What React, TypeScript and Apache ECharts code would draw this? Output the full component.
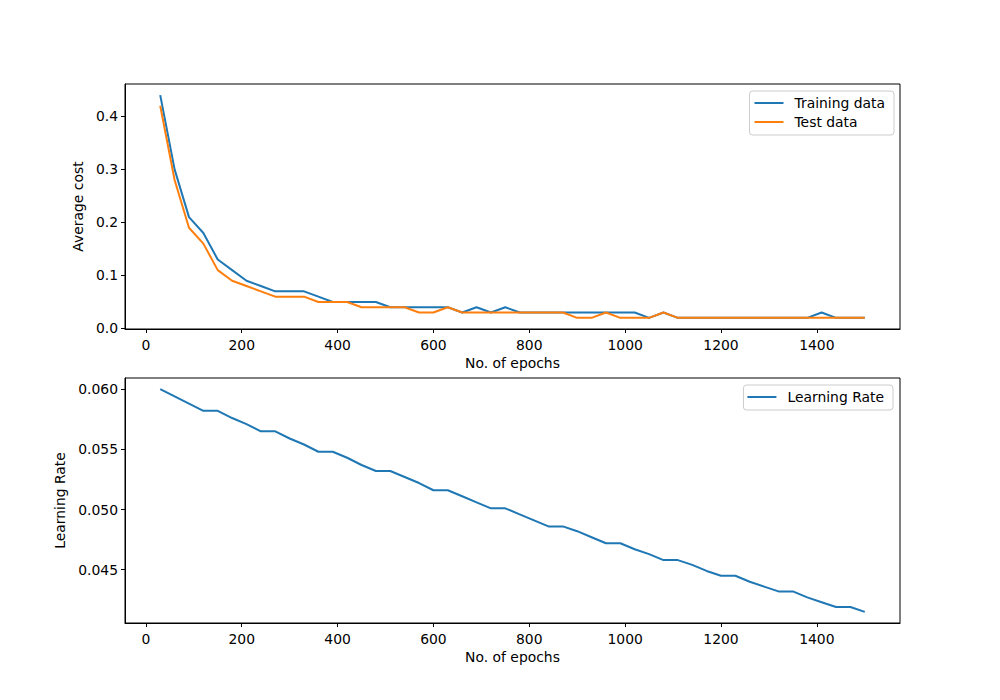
import React, { useEffect, useRef } from "react";
import * as echarts from "echarts";

const epochs = [
  30, 60, 90, 120, 150, 180, 210, 240, 270, 300,
  330, 360, 390, 420, 450, 480, 510, 540, 570, 600,
  630, 660, 690, 720, 750, 780, 810, 840, 870, 900,
  930, 960, 990, 1020, 1050, 1080, 1110, 1140, 1170, 1200,
  1230, 1260, 1290, 1320, 1350, 1380, 1410, 1440, 1470, 1500,
];

const trainingCost = [
  0.44, 0.30, 0.21, 0.18, 0.13, 0.11, 0.09, 0.08, 0.07, 0.07,
  0.07, 0.06, 0.05, 0.05, 0.05, 0.05, 0.04, 0.04, 0.04, 0.04,
  0.04, 0.03, 0.04, 0.03, 0.04, 0.03, 0.03, 0.03, 0.03, 0.03,
  0.03, 0.03, 0.03, 0.03, 0.02, 0.03, 0.02, 0.02, 0.02, 0.02,
  0.02, 0.02, 0.02, 0.02, 0.02, 0.02, 0.03, 0.02, 0.02, 0.02,
];

const testCost = [
  0.42, 0.28, 0.19, 0.16, 0.11, 0.09, 0.08, 0.07, 0.06, 0.06,
  0.06, 0.05, 0.05, 0.05, 0.04, 0.04, 0.04, 0.04, 0.03, 0.03,
  0.04, 0.03, 0.03, 0.03, 0.03, 0.03, 0.03, 0.03, 0.03, 0.02,
  0.02, 0.03, 0.02, 0.02, 0.02, 0.03, 0.02, 0.02, 0.02, 0.02,
  0.02, 0.02, 0.02, 0.02, 0.02, 0.02, 0.02, 0.02, 0.02, 0.02,
];

const learningRate = [
  0.0600, 0.0594, 0.0588, 0.0582, 0.0582, 0.0576, 0.0571, 0.0565, 0.0565, 0.0559,
  0.0554, 0.0548, 0.0548, 0.0543, 0.0537, 0.0532, 0.0532, 0.0527, 0.0522, 0.0516,
  0.0516, 0.0511, 0.0506, 0.0501, 0.0501, 0.0496, 0.0491, 0.0486, 0.0486, 0.0482,
  0.0477, 0.0472, 0.0472, 0.0467, 0.0463, 0.0458, 0.0458, 0.0454, 0.0449, 0.0445,
  0.0445, 0.0440, 0.0436, 0.0432, 0.0432, 0.0427, 0.0423, 0.0419, 0.0419, 0.0415,
];

const xTicks = [0, 200, 400, 600, 800, 1000, 1200, 1400];
const costTicks = [0.0, 0.1, 0.2, 0.3, 0.4];
const lrTicks = [0.045, 0.05, 0.055, 0.06];

const FONT = "DejaVu Sans";
const FS = 13.9;
const BLUE = "#1f77b4";
const ORANGE = "#ff7f0e";
const LW = 2;

function padRange(values: number[]): [number, number] {
  const lo = Math.min(...values);
  const hi = Math.max(...values);
  const m = (hi - lo) * 0.05;
  return [lo - m, hi + m];
}

export default function App() {
  const ref = useRef<HTMLDivElement>(null);

  useEffect(() => {
    if (!ref.current) return;
    const chart = echarts.init(ref.current, undefined, { renderer: "svg" });
    const [xMin, xMax] = padRange(epochs);
    const [cMin, cMax] = padRange([...trainingCost, ...testCost]);
    const [lMin, lMax] = padRange(learningRate);

    const axisCommon = {
      axisLine: { show: true, onZero: false, lineStyle: { color: "#000", width: 1 } },
      splitLine: { show: false },
      nameTextStyle: { color: "#000", fontFamily: FONT, fontSize: FS },
    };

    const xAxis = (gridIndex: number) => ({
      ...axisCommon,
      type: "value",
      gridIndex,
      min: xMin,
      max: xMax,
      name: "No. of epochs",
      nameLocation: "middle",
      nameGap: 27,
      axisTick: { show: true, length: 4, inside: false, lineStyle: { color: "#000" }, customValues: xTicks },
      axisLabel: {
        color: "#000",
        fontFamily: FONT,
        fontSize: FS,
        margin: 9,
        customValues: xTicks,
        formatter: (v: number) => String(v),
      },
    });

    const legendCommon = {
      orient: "vertical",
      icon: "rect",
      itemWidth: 29,
      itemHeight: 2,
      borderColor: "#cccccc",
      borderWidth: 1,
      borderRadius: 3,
      backgroundColor: "rgba(255,255,255,0.8)",
      textStyle: { color: "#000", fontFamily: FONT, fontSize: FS, padding: [0, 0, 0, 6] },
    };

    const option = {
      animation: false,
      backgroundColor: "#fff",
      grid: [
        { left: 125, top: 84, width: 775, height: 245, show: true, borderColor: "#000", borderWidth: 1, backgroundColor: "transparent" },
        { left: 125, top: 378, width: 775, height: 245, show: true, borderColor: "#000", borderWidth: 1, backgroundColor: "transparent" },
      ],
      legend: [
        {
          ...legendCommon,
          data: ["Training data", "Test data"],
          right: 106,
          top: 91,
          itemGap: 5,
          padding: [5, 9, 6, 5],
        },
        {
          ...legendCommon,
          data: ["Learning Rate"],
          right: 107,
          top: 385,
          padding: [5, 9, 6, 4],
        },
      ],
      xAxis: [xAxis(0), xAxis(1)],
      yAxis: [
        {
          ...axisCommon,
          type: "value",
          gridIndex: 0,
          min: cMin,
          max: cMax,
          name: "Average cost",
          nameLocation: "middle",
          nameGap: 39,
          nameRotate: 90,
          axisTick: { show: true, length: 4, lineStyle: { color: "#000" }, customValues: costTicks },
          axisLabel: {
            color: "#000",
            fontFamily: FONT,
            fontSize: FS,
            margin: 7,
            customValues: costTicks,
            formatter: (v: number) => v.toFixed(1),
          },
        },
        {
          ...axisCommon,
          type: "value",
          gridIndex: 1,
          min: lMin,
          max: lMax,
          name: "Learning Rate",
          nameLocation: "middle",
          nameGap: 56,
          nameRotate: 90,
          axisTick: { show: true, length: 4, lineStyle: { color: "#000" }, customValues: lrTicks },
          axisLabel: {
            color: "#000",
            fontFamily: FONT,
            fontSize: FS,
            margin: 7,
            customValues: lrTicks,
            formatter: (v: number) => v.toFixed(3),
          },
        },
      ],
      series: [
        {
          name: "Training data",
          type: "line",
          xAxisIndex: 0,
          yAxisIndex: 0,
          symbol: "none",
          color: BLUE,
          lineStyle: { color: BLUE, width: LW },
          data: epochs.map((e, i) => [e, trainingCost[i]]),
        },
        {
          name: "Test data",
          type: "line",
          xAxisIndex: 0,
          yAxisIndex: 0,
          symbol: "none",
          color: ORANGE,
          lineStyle: { color: ORANGE, width: LW },
          data: epochs.map((e, i) => [e, testCost[i]]),
        },
        {
          name: "Learning Rate",
          type: "line",
          xAxisIndex: 1,
          yAxisIndex: 1,
          symbol: "none",
          color: BLUE,
          lineStyle: { color: BLUE, width: LW },
          data: epochs.map((e, i) => [e, learningRate[i]]),
        },
      ],
    };

    chart.setOption(option as any);
    return () => chart.dispose();
  }, []);

  return (
    <div
      ref={ref}
      style={{ position: "absolute", left: 0, top: 0, width: 1000, height: 700, background: "#fff" }}
    />
  );
}
